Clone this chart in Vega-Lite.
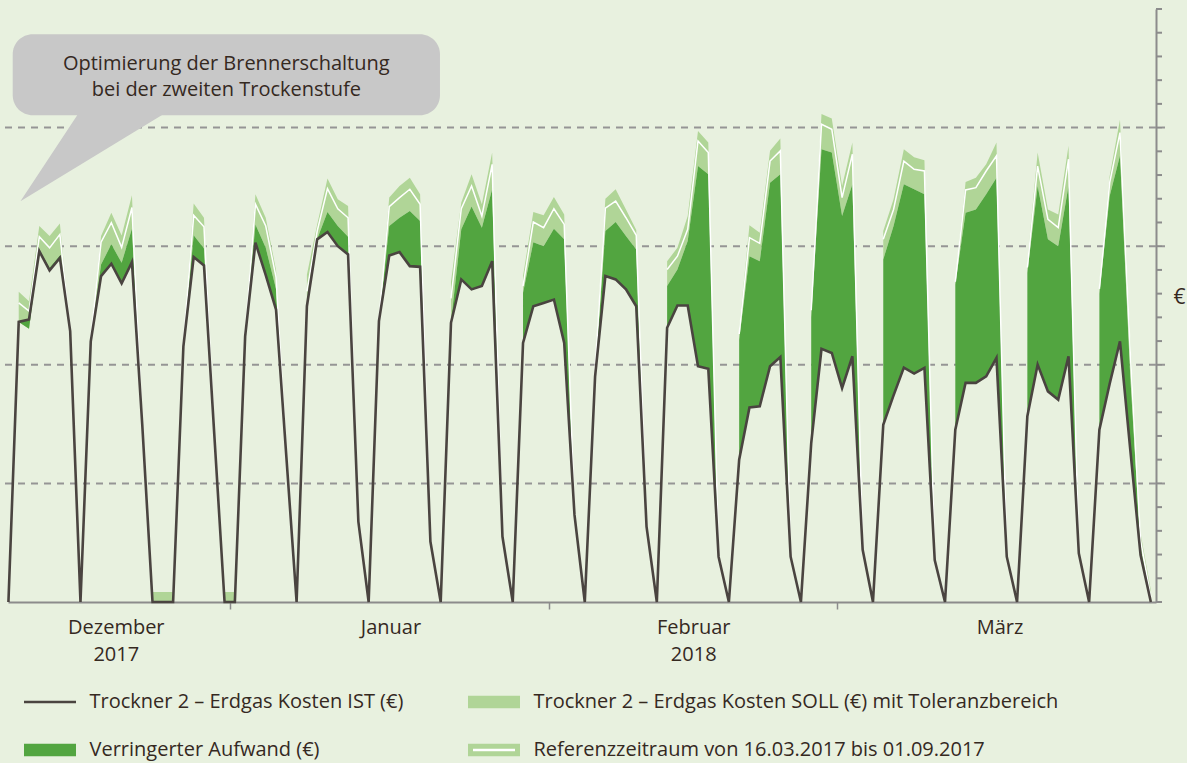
{
  "$schema": "https://vega.github.io/schema/vega-lite/v6.json",
  "width": 1148,
  "height": 593,
  "autosize": {"type": "none"},
  "padding": {"left": 8, "top": 9, "right": 31, "bottom": 161},
  "background": "#e8f1df",
  "config": {"view": {"stroke": null}, "font": "Open Sans"},
  "datasets": {
    "daily": [
      {"t":"2017-12-10T12:00:00Z","ist":0,"lo":null,"ref":null,"hi":null},
      {"t":"2017-12-11T12:00:00Z","ist":11.81,"lo":11.8,"ref":12.61,"hi":13.08},
      {"t":"2017-12-12T12:00:00Z","ist":11.91,"lo":11.52,"ref":12.26,"hi":12.68},
      {"t":"2017-12-13T12:00:00Z","ist":14.79,"lo":14.86,"ref":15.4,"hi":15.85},
      {"t":"2017-12-14T12:00:00Z","ist":13.98,"lo":14.09,"ref":14.93,"hi":15.43},
      {"t":"2017-12-15T12:00:00Z","ist":14.51,"lo":14.61,"ref":15.5,"hi":15.96},
      {"t":"2017-12-16T12:00:00Z","ist":11.42,"lo":11.42,"ref":11.42,"hi":11.5},
      {"t":"2017-12-17T12:00:00Z","ist":0,"lo":null,"ref":null,"hi":null},
      {"t":"2017-12-18T12:00:00Z","ist":10.99,"lo":11.0,"ref":11.1,"hi":11.2},
      {"t":"2017-12-19T12:00:00Z","ist":13.74,"lo":14.23,"ref":15.17,"hi":15.43},
      {"t":"2017-12-20T12:00:00Z","ist":14.26,"lo":15.08,"ref":15.99,"hi":16.41},
      {"t":"2017-12-21T12:00:00Z","ist":13.43,"lo":14.3,"ref":14.95,"hi":15.45},
      {"t":"2017-12-22T12:00:00Z","ist":14.33,"lo":15.74,"ref":16.63,"hi":17.15},
      {"t":"2017-12-23T12:00:00Z","ist":7.5,"lo":7.5,"ref":7.5,"hi":7.5},
      {"t":"2017-12-24T12:00:00Z","ist":0,"lo":0,"ref":0,"hi":0.42},
      {"t":"2017-12-25T12:00:00Z","ist":0,"lo":0,"ref":0,"hi":0.42},
      {"t":"2017-12-26T12:00:00Z","ist":0,"lo":0,"ref":0,"hi":0.42},
      {"t":"2017-12-27T12:00:00Z","ist":10.78,"lo":10.8,"ref":10.9,"hi":11.0},
      {"t":"2017-12-28T12:00:00Z","ist":14.54,"lo":15.46,"ref":16.3,"hi":16.8},
      {"t":"2017-12-29T12:00:00Z","ist":14.19,"lo":14.9,"ref":15.82,"hi":16.2},
      {"t":"2017-12-30T12:00:00Z","ist":7.08,"lo":7.08,"ref":7.08,"hi":7.08},
      {"t":"2017-12-31T12:00:00Z","ist":0,"lo":0,"ref":0,"hi":0.42},
      {"t":"2018-01-01T12:00:00Z","ist":0,"lo":0,"ref":0,"hi":0.42},
      {"t":"2018-01-02T12:00:00Z","ist":11.2,"lo":11.2,"ref":11.3,"hi":11.5},
      {"t":"2018-01-03T12:00:00Z","ist":15.15,"lo":15.92,"ref":16.77,"hi":17.19},
      {"t":"2018-01-04T12:00:00Z","ist":13.78,"lo":14.93,"ref":15.85,"hi":16.2},
      {"t":"2018-01-05T12:00:00Z","ist":12.33,"lo":13.2,"ref":13.7,"hi":14.0},
      {"t":"2018-01-06T12:00:00Z","ist":6.15,"lo":6.15,"ref":6.15,"hi":6.15},
      {"t":"2018-01-07T12:00:00Z","ist":0,"lo":null,"ref":null,"hi":null},
      {"t":"2018-01-08T12:00:00Z","ist":12.47,"lo":12.5,"ref":13.1,"hi":13.8},
      {"t":"2018-01-09T12:00:00Z","ist":15.29,"lo":15.3,"ref":15.64,"hi":15.92},
      {"t":"2018-01-10T12:00:00Z","ist":15.6,"lo":16.44,"ref":17.43,"hi":17.85},
      {"t":"2018-01-11T12:00:00Z","ist":15.0,"lo":15.85,"ref":16.58,"hi":16.98},
      {"t":"2018-01-12T12:00:00Z","ist":14.65,"lo":15.4,"ref":16.2,"hi":16.69},
      {"t":"2018-01-13T12:00:00Z","ist":3.39,"lo":3.39,"ref":3.39,"hi":3.39},
      {"t":"2018-01-14T12:00:00Z","ist":0,"lo":null,"ref":null,"hi":null},
      {"t":"2018-01-15T12:00:00Z","ist":11.84,"lo":11.85,"ref":11.9,"hi":12.0},
      {"t":"2018-01-16T12:00:00Z","ist":14.61,"lo":15.85,"ref":16.67,"hi":17.05},
      {"t":"2018-01-17T12:00:00Z","ist":14.75,"lo":16.2,"ref":17.05,"hi":17.54},
      {"t":"2018-01-18T12:00:00Z","ist":14.16,"lo":16.48,"ref":17.4,"hi":17.89},
      {"t":"2018-01-19T12:00:00Z","ist":14.13,"lo":16.06,"ref":16.77,"hi":17.19},
      {"t":"2018-01-20T12:00:00Z","ist":2.55,"lo":2.55,"ref":2.55,"hi":2.55},
      {"t":"2018-01-21T12:00:00Z","ist":0,"lo":null,"ref":null,"hi":null},
      {"t":"2018-01-22T12:00:00Z","ist":11.77,"lo":11.8,"ref":12.8,"hi":13.5},
      {"t":"2018-01-23T12:00:00Z","ist":13.6,"lo":15.71,"ref":16.58,"hi":16.84},
      {"t":"2018-01-24T12:00:00Z","ist":13.18,"lo":16.67,"ref":17.54,"hi":18.03},
      {"t":"2018-01-25T12:00:00Z","ist":13.32,"lo":15.78,"ref":16.27,"hi":16.77},
      {"t":"2018-01-26T12:00:00Z","ist":14.37,"lo":17.4,"ref":18.45,"hi":18.95},
      {"t":"2018-01-27T12:00:00Z","ist":2.76,"lo":2.76,"ref":2.76,"hi":2.76},
      {"t":"2018-01-28T12:00:00Z","ist":0,"lo":null,"ref":null,"hi":null},
      {"t":"2018-01-29T12:00:00Z","ist":10.92,"lo":13.04,"ref":13.32,"hi":13.74},
      {"t":"2018-01-30T12:00:00Z","ist":12.47,"lo":15.17,"ref":16.02,"hi":16.44},
      {"t":"2018-01-31T12:00:00Z","ist":12.61,"lo":15.0,"ref":15.78,"hi":16.3},
      {"t":"2018-02-01T12:00:00Z","ist":12.75,"lo":15.74,"ref":16.58,"hi":17.07},
      {"t":"2018-02-02T12:00:00Z","ist":10.92,"lo":15.29,"ref":15.92,"hi":16.34},
      {"t":"2018-02-03T12:00:00Z","ist":3.67,"lo":3.67,"ref":3.67,"hi":3.67},
      {"t":"2018-02-04T12:00:00Z","ist":0,"lo":null,"ref":null,"hi":null},
      {"t":"2018-02-05T12:00:00Z","ist":9.5,"lo":9.6,"ref":9.8,"hi":10.0},
      {"t":"2018-02-06T12:00:00Z","ist":13.74,"lo":15.64,"ref":16.6,"hi":17.0},
      {"t":"2018-02-07T12:00:00Z","ist":13.6,"lo":16.02,"ref":16.9,"hi":17.4},
      {"t":"2018-02-08T12:00:00Z","ist":13.18,"lo":15.43,"ref":16.2,"hi":16.55},
      {"t":"2018-02-09T12:00:00Z","ist":12.47,"lo":14.86,"ref":15.46,"hi":15.68},
      {"t":"2018-02-10T12:00:00Z","ist":3.18,"lo":3.18,"ref":3.18,"hi":3.18},
      {"t":"2018-02-11T12:00:00Z","ist":0,"lo":null,"ref":null,"hi":null},
      {"t":"2018-02-12T12:00:00Z","ist":11.56,"lo":13.32,"ref":14.02,"hi":14.37},
      {"t":"2018-02-13T12:00:00Z","ist":12.5,"lo":14.02,"ref":14.58,"hi":14.93},
      {"t":"2018-02-14T12:00:00Z","ist":12.5,"lo":15.22,"ref":15.71,"hi":16.27},
      {"t":"2018-02-15T12:00:00Z","ist":9.94,"lo":18.38,"ref":19.44,"hi":19.86},
      {"t":"2018-02-16T12:00:00Z","ist":9.83,"lo":18.03,"ref":18.95,"hi":19.37},
      {"t":"2018-02-17T12:00:00Z","ist":1.91,"lo":1.91,"ref":1.91,"hi":1.91},
      {"t":"2018-02-18T12:00:00Z","ist":0,"lo":null,"ref":null,"hi":null},
      {"t":"2018-02-19T12:00:00Z","ist":6.0,"lo":11.06,"ref":11.3,"hi":11.5},
      {"t":"2018-02-20T12:00:00Z","ist":8.2,"lo":14.58,"ref":15.36,"hi":15.88},
      {"t":"2018-02-21T12:00:00Z","ist":8.25,"lo":14.37,"ref":15.12,"hi":15.57},
      {"t":"2018-02-22T12:00:00Z","ist":9.94,"lo":17.68,"ref":18.59,"hi":19.02},
      {"t":"2018-02-23T12:00:00Z","ist":10.33,"lo":18.03,"ref":19.02,"hi":19.54},
      {"t":"2018-02-24T12:00:00Z","ist":1.91,"lo":1.91,"ref":1.91,"hi":1.91},
      {"t":"2018-02-25T12:00:00Z","ist":0,"lo":null,"ref":null,"hi":null},
      {"t":"2018-02-26T12:00:00Z","ist":6.7,"lo":12.0,"ref":12.3,"hi":12.6},
      {"t":"2018-02-27T12:00:00Z","ist":10.67,"lo":19.09,"ref":20.14,"hi":20.57},
      {"t":"2018-02-28T12:00:00Z","ist":10.5,"lo":18.95,"ref":19.93,"hi":20.38},
      {"t":"2018-03-01T12:00:00Z","ist":9.02,"lo":16.27,"ref":17.05,"hi":17.54},
      {"t":"2018-03-02T12:00:00Z","ist":10.36,"lo":17.61,"ref":18.88,"hi":19.37},
      {"t":"2018-03-03T12:00:00Z","ist":2.2,"lo":2.2,"ref":2.2,"hi":2.2},
      {"t":"2018-03-04T12:00:00Z","ist":0,"lo":null,"ref":null,"hi":null},
      {"t":"2018-03-05T12:00:00Z","ist":7.47,"lo":14.44,"ref":15.29,"hi":15.64},
      {"t":"2018-03-06T12:00:00Z","ist":8.71,"lo":15.85,"ref":16.55,"hi":16.98},
      {"t":"2018-03-07T12:00:00Z","ist":9.88,"lo":17.61,"ref":18.59,"hi":19.09},
      {"t":"2018-03-08T12:00:00Z","ist":9.63,"lo":17.4,"ref":18.24,"hi":18.75},
      {"t":"2018-03-09T12:00:00Z","ist":9.87,"lo":17.19,"ref":18.17,"hi":18.62},
      {"t":"2018-03-10T12:00:00Z","ist":1.77,"lo":1.77,"ref":1.77,"hi":1.77},
      {"t":"2018-03-11T12:00:00Z","ist":0,"lo":null,"ref":null,"hi":null},
      {"t":"2018-03-12T12:00:00Z","ist":7.26,"lo":13.39,"ref":13.5,"hi":13.6},
      {"t":"2018-03-13T12:00:00Z","ist":9.24,"lo":16.41,"ref":17.37,"hi":17.71},
      {"t":"2018-03-14T12:00:00Z","ist":9.24,"lo":16.55,"ref":17.47,"hi":17.89},
      {"t":"2018-03-15T12:00:00Z","ist":9.51,"lo":17.19,"ref":18.17,"hi":18.45},
      {"t":"2018-03-16T12:00:00Z","ist":10.29,"lo":17.89,"ref":18.81,"hi":19.37},
      {"t":"2018-03-17T12:00:00Z","ist":1.91,"lo":1.91,"ref":1.91,"hi":1.91},
      {"t":"2018-03-18T12:00:00Z","ist":0,"lo":null,"ref":null,"hi":null},
      {"t":"2018-03-19T12:00:00Z","ist":7.83,"lo":13.88,"ref":14.1,"hi":14.3},
      {"t":"2018-03-20T12:00:00Z","ist":10.01,"lo":17.54,"ref":18.38,"hi":18.95},
      {"t":"2018-03-21T12:00:00Z","ist":8.88,"lo":15.29,"ref":16.13,"hi":16.55},
      {"t":"2018-03-22T12:00:00Z","ist":8.53,"lo":15.0,"ref":15.78,"hi":16.34},
      {"t":"2018-03-23T12:00:00Z","ist":10.36,"lo":17.54,"ref":18.67,"hi":19.23},
      {"t":"2018-03-24T12:00:00Z","ist":2.05,"lo":2.05,"ref":2.05,"hi":2.05},
      {"t":"2018-03-25T12:00:00Z","ist":0,"lo":null,"ref":null,"hi":null},
      {"t":"2018-03-26T12:00:00Z","ist":7.26,"lo":13.0,"ref":13.2,"hi":13.4},
      {"t":"2018-03-27T12:00:00Z","ist":9.2,"lo":17.12,"ref":17.68,"hi":17.96},
      {"t":"2018-03-28T12:00:00Z","ist":10.99,"lo":18.81,"ref":19.79,"hi":20.33},
      {"t":"2018-03-29T12:00:00Z","ist":6.42,"lo":9.5,"ref":10.5,"hi":11.0},
      {"t":"2018-03-30T12:00:00Z","ist":1.98,"lo":2.3,"ref":2.6,"hi":2.9},
      {"t":"2018-03-31T12:00:00Z","ist":0,"lo":0,"ref":0.2,"hi":0.5}
    ],
    "tail": [
      {"t":"2017-12-11T16:00:00Z","a":16.89,"b":16.89},
      {"t":"2017-12-17T10:54:00Z","a":18.42,"b":20.7},
      {"t":"2017-12-25T17:00:00Z","a":20.6,"b":20.7}
    ],
    "months": [
      {"t":"2017-12-20T23:30:00Z","label":"Dezember\n2017"},
      {"t":"2018-01-16T16:00:00Z","label":"Januar"},
      {"t":"2018-02-15T02:00:00Z","label":"Februar\n2018"},
      {"t":"2018-03-16T20:20:00Z","label":"März"}
    ],
    "grid": [{"g": 5}, {"g": 10}, {"g": 15}, {"g": 20}],
    "ticks": [{"v":0},{"v":1},{"v":2},{"v":3},{"v":4},{"v":5},{"v":6},{"v":7},{"v":8},{"v":9},{"v":10},{"v":11},{"v":12},{"v":13},{"v":14},{"v":15},{"v":16},{"v":17},{"v":18},{"v":19},{"v":20},{"v":21},{"v":22},{"v":23},{"v":24},{"v":25}]
  },
  "layer": [
    {
      "data": {"name": "grid"},
      "mark": {"type": "rule", "color": "#959595", "strokeWidth": 2, "strokeDash": [7, 6]},
      "encoding": {
        "x": {
          "datum": {"year": 2017, "month": 12, "date": 10, "hours": 4, "utc": true}, "type": "temporal",
          "scale": {"type": "utc", "domain": [{"year": 2017, "month": 12, "date": 10, "hours": 11, "utc": true}, {"year": 2018, "month": 4, "date": 1, "utc": true}]},
          "axis": {
            "values": [{"year": 2018, "month": 1, "date": 1, "utc": true}, {"year": 2018, "month": 2, "date": 1, "utc": true}, {"year": 2018, "month": 3, "date": 1, "utc": true}],
            "labels": false, "title": null, "grid": false,
            "ticks": true, "tickSize": 7, "tickColor": "#8c8c8c", "tickWidth": 1.5,
            "domain": true, "domainColor": "#8c8c8c", "domainWidth": 2
          }
        },
        "x2": {"datum": {"year": 2018, "month": 4, "date": 1, "hours": 21, "utc": true}},
        "y": {
          "field": "g", "type": "quantitative", "title": "€",
          "scale": {"domain": [0, 25], "nice": false, "zero": true},
          "axis": {
            "orient": "right",
            "labels": false, "grid": false, "ticks": false,
            "domain": true, "domainColor": "#8c8c8c", "domainWidth": 2,
            "title": "€", "titleAngle": 0, "titleX": 23, "titleY": 288,
            "titleAlign": "center", "titleBaseline": "middle",
            "titleFontSize": 21, "titleFontWeight": "normal", "titleColor": "#35291f", "titleFont": "Open Sans"
          }
        }
      }
    },
    {
      "data": {"name": "ticks"},
      "mark": {"type": "rule", "color": "#8c8c8c", "strokeWidth": 2},
      "encoding": {
        "x": {"datum": {"year": 2018, "month": 4, "date": 1, "utc": true}, "type": "temporal", "scale": {"type": "utc"}},
        "x2": {"datum": {"year": 2018, "month": 4, "date": 1, "hours": 14, "utc": true}},
        "y": {"field": "v", "type": "quantitative", "title": "€"}
      }
    },
    {
      "data": {"name": "daily"},
      "mark": {"type": "area", "color": "#b0d597"},
      "encoding": {
        "x": {"field": "t", "type": "temporal", "title": null, "scale": {"type": "utc"}},
        "y": {"field": "lo", "type": "quantitative", "title": "€"},
        "y2": {"field": "hi"}
      }
    },
    {
      "data": {"name": "daily"},
      "mark": {"type": "area", "color": "#52a540"},
      "encoding": {
        "x": {"field": "t", "type": "temporal", "title": null, "scale": {"type": "utc"}},
        "y": {"field": "lo", "type": "quantitative", "title": "€"},
        "y2": {"field": "ist"}
      }
    },
    {
      "data": {"name": "daily"},
      "mark": {"type": "line", "color": "#ffffff", "strokeWidth": 1.5},
      "encoding": {
        "x": {"field": "t", "type": "temporal", "title": null, "scale": {"type": "utc"}},
        "y": {"field": "ref", "type": "quantitative", "title": "€"}
      }
    },
    {
      "data": {"name": "daily"},
      "mark": {"type": "line", "color": "#4a4440", "strokeWidth": 2.6},
      "encoding": {
        "x": {"field": "t", "type": "temporal", "title": null, "scale": {"type": "utc"}},
        "y": {"field": "ist", "type": "quantitative", "title": "€"}
      }
    },
    {
      "data": {"name": "tail"},
      "mark": {"type": "area", "color": "#c8c8c8"},
      "encoding": {
        "x": {"field": "t", "type": "temporal", "title": null, "scale": {"type": "utc"}},
        "y": {"field": "a", "type": "quantitative", "title": "€"},
        "y2": {"field": "b"}
      }
    },
    {
      "data": {"values": [{}]},
      "mark": {"type": "rect", "color": "#c8c8c8", "cornerRadius": 20},
      "encoding": {
        "x": {"datum": {"year": 2017, "month": 12, "date": 10, "hours": 22, "utc": true}, "type": "temporal", "scale": {"type": "utc"}},
        "x2": {"datum": {"year": 2018, "month": 1, "date": 21, "hours": 10, "minutes": 20, "utc": true}},
        "y": {"datum": 23.94, "type": "quantitative"},
        "y2": {"datum": 20.52}
      }
    },
    {
      "data": {"values": [{}]},
      "mark": {"type": "text", "align": "center", "baseline": "alphabetic", "lineBreak": "\n", "lineHeight": 26, "fontSize": 20, "color": "#35291f", "font": "Open Sans"},
      "encoding": {
        "x": {"datum": {"year": 2017, "month": 12, "date": 31, "hours": 16, "utc": true}, "type": "temporal", "scale": {"type": "utc"}},
        "y": {"datum": 22.44, "type": "quantitative"},
        "text": {"value": "Optimierung der Brennerschaltung\nbei der zweiten Trockenstufe"}
      }
    },
    {
      "data": {"name": "months"},
      "mark": {"type": "text", "align": "center", "baseline": "alphabetic", "lineBreak": "\n", "lineHeight": 27, "fontSize": 20, "color": "#35291f", "font": "Open Sans"},
      "encoding": {
        "x": {"field": "t", "type": "temporal", "title": null, "scale": {"type": "utc"}},
        "y": {"datum": -1.364, "type": "quantitative"},
        "text": {"field": "label"}
      }
    },
    {
      "data": {"values": [{"k": "IST"}]},
      "transform": [{"filter": "false"}],
      "mark": {"type": "point", "filled": true, "opacity": 1, "strokeWidth": 5},
      "encoding": {
        "fill": {
          "field": "k", "type": "nominal",
          "scale": {"domain": ["IST", "SOLL", "VA", "REF"], "range": ["#4a4440", "#b0d597", "#52a540", "#ffffff"]},
          "legend": {
            "title": null,
            "orient": "none", "legendX": 13.5, "legendY": 683,
            "direction": "horizontal", "columns": 2,
            "columnPadding": 62, "rowPadding": 28, "clipHeight": 20,
            "padding": 0,
            "symbolSize": 2704, "symbolStrokeWidth": 5, "symbolOffset": 0,
            "labelOffset": 11, "labelFontSize": 20, "labelFont": "Open Sans", "labelColor": "#35291f", "labelLimit": 700,
            "labelExpr": "datum.value === 'IST' ? 'Trockner 2 – Erdgas Kosten IST (€)' : datum.value === 'SOLL' ? 'Trockner 2 – Erdgas Kosten SOLL (€) mit Toleranzbereich' : datum.value === 'VA' ? 'Verringerter Aufwand (€)' : 'Referenzzeitraum von 16.03.2017 bis 01.09.2017'"
          }
        },
        "stroke": {
          "field": "k", "type": "nominal",
          "scale": {"domain": ["IST", "SOLL", "VA", "REF"], "range": ["transparent", "transparent", "transparent", "#b0d597"]},
          "legend": {
            "title": null,
            "orient": "none", "legendX": 13.5, "legendY": 683,
            "direction": "horizontal", "columns": 2,
            "columnPadding": 62, "rowPadding": 28, "clipHeight": 20,
            "padding": 0,
            "symbolSize": 2704, "symbolStrokeWidth": 5, "symbolOffset": 0,
            "labelOffset": 11, "labelFontSize": 20, "labelFont": "Open Sans", "labelColor": "#35291f", "labelLimit": 700,
            "labelExpr": "datum.value === 'IST' ? 'Trockner 2 – Erdgas Kosten IST (€)' : datum.value === 'SOLL' ? 'Trockner 2 – Erdgas Kosten SOLL (€) mit Toleranzbereich' : datum.value === 'VA' ? 'Verringerter Aufwand (€)' : 'Referenzzeitraum von 16.03.2017 bis 01.09.2017'"
          }
        },
        "shape": {
          "field": "k", "type": "nominal",
          "scale": {"domain": ["IST", "SOLL", "VA", "REF"], "range": ["M-1,-0.05H1V0.05H-1Z", "M-1,-0.245H1V0.245H-1Z", "M-1,-0.245H1V0.245H-1Z", "M-0.904,-0.148H0.904V0.148H-0.904Z"]},
          "legend": {
            "title": null,
            "orient": "none", "legendX": 13.5, "legendY": 683,
            "direction": "horizontal", "columns": 2,
            "columnPadding": 62, "rowPadding": 28, "clipHeight": 20,
            "padding": 0,
            "symbolSize": 2704, "symbolStrokeWidth": 5, "symbolOffset": 0,
            "labelOffset": 11, "labelFontSize": 20, "labelFont": "Open Sans", "labelColor": "#35291f", "labelLimit": 700,
            "labelExpr": "datum.value === 'IST' ? 'Trockner 2 – Erdgas Kosten IST (€)' : datum.value === 'SOLL' ? 'Trockner 2 – Erdgas Kosten SOLL (€) mit Toleranzbereich' : datum.value === 'VA' ? 'Verringerter Aufwand (€)' : 'Referenzzeitraum von 16.03.2017 bis 01.09.2017'"
          }
        }
      }
    }
  ]
}
